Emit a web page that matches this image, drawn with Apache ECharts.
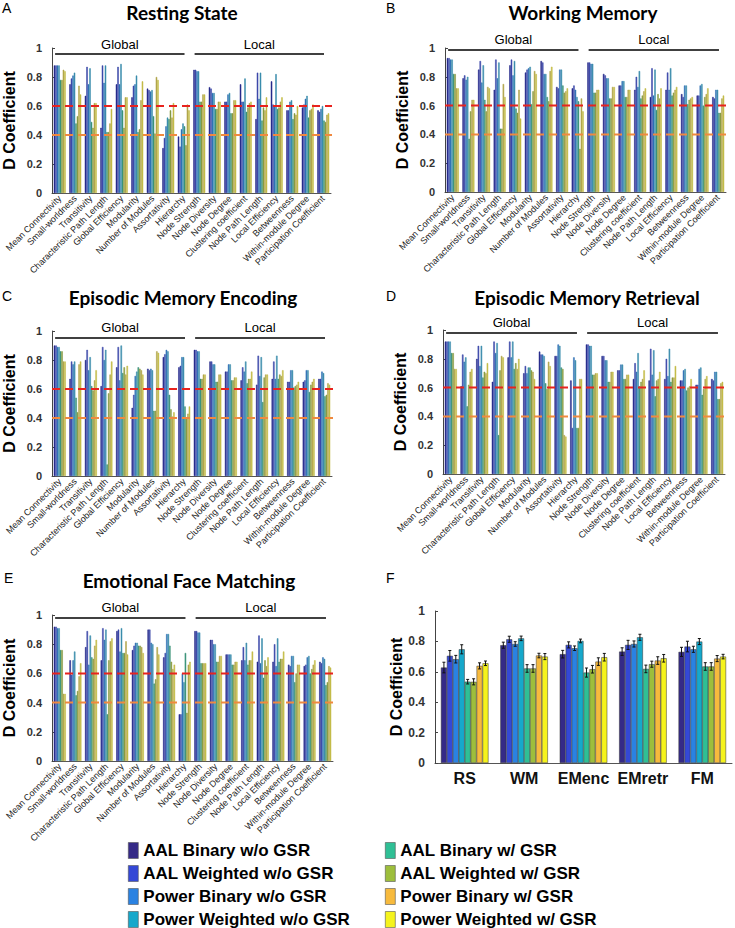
<!DOCTYPE html>
<html><head><meta charset="utf-8">
<script src="https://cdn.jsdelivr.net/npm/echarts@6/dist/echarts.min.js"></script>
<style>html,body{margin:0;padding:0;background:#fff}#c{width:735px;height:928px}</style>
</head><body><div id="c"></div>
<script>
// ---------------- DATA ----------------
const metrics = ['Mean Connectivity','Small-worldness','Transitivity','Characteristic Path Length','Global Efficiency','Modularity','Number of Modules','Assortativity','Hierarchy','Node Strength','Node Diversity','Node Degree','Clustering coefficient','Node Path Length','Local Efficiency','Betweenness','Within-module Degree','Participation Coefficient'];
const seriesNames = ['AAL Binary w/o GSR','AAL Weighted w/o GSR','Power Binary w/o GSR','Power Weighted w/o GSR','AAL Binary w/ GSR','AAL Weighted w/ GSR','Power Binary w/ GSR','Power Weighted w/ GSR'];
const groupNames = ['Global','Local'];
const groupStart = [0, 9];
const groupEnd = [8, 17];
const thresholds = [0.6, 0.4];

// one row per metric, values in seriesNames order
const restingRows = [
[0.88,0.88,0.88,0.88,0.78,0.78,0.85,0.84],
[0.75,0.79,0.81,0.83,0.48,0.53,0.74,0.68],
[0.67,0.87,0.75,0.86,0.49,0.45,0.62,0.62],
[0.45,0.88,0.76,0.88,0.42,0.42,0.48,0.58],
[0.75,0.87,0.75,0.89,0.57,0.45,0.66,0.66],
[0.66,0.74,0.75,0.81,0.42,0.44,0.64,0.77],
[0.72,0.71,0.70,0.71,0.53,0.41,0.80,0.78],
[0.31,0.38,0.46,0.52,0.51,0.57,0.52,0.62],
[0.39,0.32,0.44,0.48,0.46,0.33,0.61,0.57],
[0.85,0.85,0.84,0.84,0.63,0.63,0.68,0.68],
[0.73,0.72,0.69,0.69,0.58,0.58,0.63,0.63],
[0.63,0.63,0.68,0.69,0.55,0.55,0.64,0.64],
[0.75,0.63,0.63,0.79,0.56,0.59,0.62,0.63],
[0.51,0.83,0.65,0.83,0.50,0.59,0.57,0.66],
[0.77,0.61,0.60,0.82,0.58,0.59,0.63,0.66],
[0.57,0.57,0.63,0.64,0.51,0.55,0.54,0.60],
[0.59,0.61,0.65,0.67,0.52,0.57,0.58,0.61],
[0.57,0.56,0.58,0.60,0.50,0.49,0.54,0.55]
];
const workingRows = [
[0.93,0.93,0.92,0.92,0.82,0.82,0.72,0.72],
[0.79,0.81,0.78,0.80,0.37,0.56,0.64,0.64],
[0.85,0.91,0.76,0.88,0.64,0.56,0.73,0.72],
[0.71,0.92,0.79,0.90,0.44,0.44,0.75,0.66],
[0.88,0.92,0.81,0.91,0.58,0.55,0.71,0.51],
[0.83,0.85,0.86,0.87,0.61,0.70,0.84,0.82],
[0.91,0.90,0.82,0.82,0.66,0.63,0.84,0.87],
[0.73,0.72,0.85,0.85,0.74,0.69,0.70,0.72],
[0.72,0.74,0.71,0.66,0.63,0.30,0.65,0.56],
[0.90,0.90,0.89,0.89,0.69,0.69,0.71,0.71],
[0.82,0.81,0.79,0.79,0.65,0.65,0.73,0.73],
[0.74,0.74,0.77,0.77,0.66,0.66,0.71,0.71],
[0.71,0.80,0.73,0.84,0.65,0.67,0.70,0.72],
[0.66,0.86,0.67,0.85,0.57,0.68,0.65,0.72],
[0.71,0.83,0.71,0.86,0.67,0.69,0.71,0.73],
[0.68,0.66,0.74,0.74,0.61,0.64,0.65,0.66],
[0.67,0.67,0.74,0.75,0.60,0.66,0.68,0.72],
[0.66,0.65,0.71,0.71,0.55,0.55,0.65,0.67]
];
const encodingRows = [
[0.90,0.90,0.89,0.89,0.86,0.86,0.79,0.79],
[0.67,0.79,0.77,0.79,0.54,0.44,0.77,0.79],
[0.80,0.87,0.73,0.82,0.62,0.59,0.66,0.73],
[0.62,0.89,0.80,0.87,0.08,0.57,0.70,0.79],
[0.75,0.89,0.66,0.90,0.71,0.75,0.70,0.76],
[0.47,0.56,0.69,0.72,0.75,0.74,0.73,0.70],
[0.74,0.73,0.74,0.73,0.45,0.45,0.86,0.85],
[0.82,0.84,0.87,0.86,0.56,0.46,0.41,0.44],
[0.75,0.76,0.82,0.82,0.48,0.40,0.43,0.48],
[0.87,0.87,0.86,0.86,0.67,0.67,0.70,0.70],
[0.79,0.79,0.77,0.77,0.65,0.65,0.70,0.70],
[0.72,0.72,0.77,0.77,0.66,0.66,0.68,0.68],
[0.66,0.75,0.72,0.79,0.64,0.67,0.67,0.72],
[0.63,0.83,0.69,0.82,0.51,0.68,0.70,0.70],
[0.67,0.79,0.67,0.83,0.67,0.70,0.69,0.73],
[0.65,0.65,0.73,0.73,0.61,0.62,0.63,0.65],
[0.65,0.66,0.73,0.73,0.58,0.63,0.65,0.67],
[0.67,0.67,0.72,0.71,0.55,0.56,0.64,0.63]
];
const retrievalRows = [
[0.92,0.92,0.92,0.92,0.84,0.84,0.73,0.73],
[0.61,0.83,0.78,0.81,0.47,0.62,0.71,0.73],
[0.80,0.89,0.75,0.89,0.67,0.71,0.70,0.77],
[0.64,0.92,0.84,0.91,0.27,0.72,0.82,0.81],
[0.81,0.92,0.81,0.92,0.73,0.77,0.73,0.80],
[0.70,0.75,0.70,0.74,0.74,0.72,0.71,0.66],
[0.85,0.83,0.83,0.82,0.63,0.59,0.78,0.75],
[0.82,0.82,0.90,0.89,0.74,0.73,0.27,0.26],
[0.65,0.32,0.81,0.79,0.32,0.32,0.66,0.66],
[0.90,0.90,0.89,0.89,0.69,0.69,0.70,0.70],
[0.82,0.82,0.79,0.79,0.64,0.64,0.71,0.71],
[0.72,0.72,0.76,0.76,0.66,0.66,0.69,0.69],
[0.66,0.77,0.71,0.84,0.61,0.64,0.66,0.72],
[0.65,0.87,0.69,0.86,0.54,0.65,0.66,0.71],
[0.66,0.80,0.68,0.87,0.64,0.67,0.67,0.75],
[0.65,0.65,0.72,0.73,0.58,0.60,0.61,0.66],
[0.62,0.62,0.73,0.74,0.55,0.59,0.66,0.68],
[0.66,0.65,0.71,0.71,0.52,0.52,0.63,0.64]
];
const faceRows = [
[0.92,0.92,0.91,0.91,0.76,0.76,0.46,0.46],
[0.69,0.59,0.69,0.75,0.45,0.48,0.58,0.67],
[0.78,0.89,0.66,0.86,0.71,0.70,0.79,0.83],
[0.69,0.91,0.83,0.90,0.32,0.69,0.82,0.84],
[0.89,0.90,0.75,0.91,0.74,0.74,0.82,0.73],
[0.76,0.79,0.81,0.81,0.79,0.79,0.78,0.74],
[0.90,0.90,0.81,0.80,0.53,0.56,0.78,0.73],
[0.71,0.74,0.87,0.87,0.79,0.68,0.63,0.66],
[0.32,0.32,0.60,0.54,0.74,0.33,0.66,0.68],
[0.89,0.89,0.88,0.88,0.67,0.67,0.67,0.67],
[0.83,0.83,0.80,0.80,0.68,0.68,0.72,0.72],
[0.73,0.73,0.73,0.73,0.66,0.66,0.68,0.68],
[0.69,0.78,0.69,0.81,0.66,0.69,0.69,0.75],
[0.68,0.86,0.67,0.84,0.57,0.69,0.65,0.71],
[0.68,0.80,0.65,0.84,0.68,0.70,0.70,0.75],
[0.66,0.65,0.72,0.72,0.54,0.60,0.66,0.66],
[0.65,0.66,0.71,0.72,0.60,0.63,0.66,0.69],
[0.68,0.67,0.71,0.70,0.52,0.54,0.65,0.64]
];
const summaryCats = ['RS','WM','EMenc','EMretr','FM'];
const summaryMeans = [
[0.628,0.705,0.683,0.748,0.535,0.534,0.639,0.656],
[0.775,0.814,0.783,0.820,0.622,0.622,0.707,0.700],
[0.716,0.777,0.755,0.803,0.595,0.617,0.667,0.696],
[0.733,0.777,0.783,0.827,0.619,0.650,0.674,0.689],
[0.731,0.766,0.748,0.799,0.635,0.635,0.687,0.700]
];
const summaryErrs = [
[0.035,0.035,0.025,0.030,0.015,0.020,0.020,0.015],
[0.020,0.020,0.015,0.015,0.025,0.025,0.015,0.020],
[0.025,0.020,0.015,0.012,0.030,0.025,0.025,0.025],
[0.025,0.030,0.020,0.020,0.025,0.020,0.025,0.025],
[0.030,0.035,0.020,0.020,0.025,0.025,0.020,0.015]
];

// ---------------- STYLE / LAYOUT ----------------
const brightColors = ['#352A87','#3448D6','#2A82E2','#16A8CB','#2FBF95','#9DBE3C','#F7BA3D','#F5F31C'];
const thinColors   = ['#25288A','#3A47A8','#2F70B5','#3A8CAC','#3A9279','#869B40','#B0A54A','#C2BA44'];
const panels = [
 {rows: restingRows,   title:'Resting State',             letter:'A', grid:{left:51, top:48,  width:280, height:145}, titleXY:[182,12],  letterXY:[2,8],    bracketY:0.96},
 {rows: workingRows,   title:'Working Memory',            letter:'B', grid:{left:445,top:48,  width:281, height:144}, titleXY:[583,12],  letterXY:[386,8],  bracketY:0.99},
 {rows: encodingRows,  title:'Episodic Memory Encoding',  letter:'C', grid:{left:51, top:331, width:281, height:145}, titleXY:[183,297], letterXY:[2,296],  bracketY:0.956},
 {rows: retrievalRows, title:'Episodic Memory Retrieval', letter:'D', grid:{left:443,top:330, width:282, height:144}, titleXY:[587,297], letterXY:[386,296], bracketY:0.984},
 {rows: faceRows,      title:'Emotional Face Matching',   letter:'E', grid:{left:52, top:615, width:281, height:146}, titleXY:[189,580], letterXY:[4,578],  bracketY:0.984}
];
const summaryPanel = {letter:'F', grid:{left:435, top:611, width:297, height:152}, letterXY:[386,578]};
const FONT = 'Liberation Sans, Arial, Helvetica, sans-serif';

const grids=[], xAxes=[], yAxes=[], series=[], datasets=[], graphics=[];

function yAxisFor(k, gap, labelSize, margin){
  return {type:'value', gridIndex:k, min:0, max:1, interval:0.2,
    name:'D Coefficient', nameLocation:'middle', nameGap:gap,
    nameTextStyle:{fontFamily:FONT, fontSize:16, fontWeight:'bold', color:'#000'},
    axisLine:{show:true, onZero:false, lineStyle:{color:'#444', width:1}},
    axisTick:{show:true, inside:true, length:3, lineStyle:{color:'#444'}},
    splitLine:{show:false},
    axisLabel:{fontFamily:FONT, fontSize:labelSize, fontWeight:'bold', color:'#333', margin:margin}};
}

panels.forEach((p, k) => {
  grids.push(p.grid);
  datasets.push({source: metrics.map((m, i) => [m].concat(p.rows[i]))});
  const cx = xAxes.length;
  xAxes.push({type:'category', gridIndex:k, data:metrics,
    axisLine:{onZero:false, lineStyle:{color:'#555', width:1}}, axisTick:{show:false},
    axisLabel:{interval:0, rotate:45, fontFamily:FONT, fontSize:9, color:'#222', margin:4}});
  const vx = xAxes.length;
  xAxes.push({type:'value', gridIndex:k, min:-0.5, max:metrics.length-0.5, show:false});
  const yi = yAxes.length;
  yAxes.push(yAxisFor(k, 35, 11, 10));
  seriesNames.forEach((n, j) => series.push({
    type:'bar', name:n, datasetIndex:k, xAxisIndex:cx, yAxisIndex:yi,
    encode:{x:0, y:j+1}, barGap:'0%', barCategoryGap:'23%',
    itemStyle:{color:thinColors[j], borderColor:thinColors[j], borderWidth:0.5}, emphasis:{disabled:true}
  }));
  // Global / Local brackets
  const mlData = groupNames.map((g, gi) => [
    {name:g, coord:[groupStart[gi]-0.3, p.bracketY], lineStyle:{color:'#000', width:1.5, type:'solid'},
     label:{show:true, formatter:g, position:'insideMiddleTop', distance:3, fontFamily:FONT, fontSize:13, color:'#000'}},
    {coord:[groupEnd[gi]+0.05, p.bracketY]}
  ]);
  series.push({type:'line', xAxisIndex:vx, yAxisIndex:yi, data:[], silent:true,
    markLine:{silent:true, symbol:['none','none'], animation:false, data:mlData}});
  // dashed thresholds (extend slightly past the axis end)
  thresholds.forEach((t, ti) => series.push({
    type:'line', xAxisIndex:vx, yAxisIndex:yi, silent:true, clip:false, symbol:'none', z:5,
    data:[[-0.5, t], [metrics.length + 0.1, t]],
    lineStyle:{color: ti===0 ? '#E8231E' : '#F0893F', width:2, type:[8,5]}
  }));
  graphics.push({type:'text', style:{x:p.titleXY[0], y:p.titleXY[1], text:p.title, textAlign:'center', textVerticalAlign:'middle', font:'bold 19px Lato, "Open Sans", sans-serif', fill:'#000'}});
  graphics.push({type:'text', style:{x:p.letterXY[0], y:p.letterXY[1], text:p.letter, textAlign:'left', textVerticalAlign:'middle', font:'14px ' + FONT, fill:'#000'}});
});

// Panel F
const kF = panels.length;
grids.push(summaryPanel.grid);
datasets.push({source: summaryCats.map((c, i) => [c].concat(summaryMeans[i]))});
const fx = xAxes.length;
xAxes.push({type:'category', gridIndex:kF, data:summaryCats,
  axisLine:{lineStyle:{color:'#555', width:1}}, axisTick:{show:false},
  axisLabel:{interval:0, fontFamily:FONT, fontSize:16, fontWeight:'bold', color:'#111', margin:7}});
const fy = yAxes.length;
yAxes.push(yAxisFor(kF, 29, 12, 10));
const fGap = 0.2;
seriesNames.forEach((n, j) => series.push({
  type:'bar', name:n, datasetIndex:kF, xAxisIndex:fx, yAxisIndex:fy,
  encode:{x:0, y:j+1}, barGap:'0%', barCategoryGap:(fGap*100)+'%',
  itemStyle:{color:brightColors[j], borderColor:'#333', borderWidth:0.5}, emphasis:{disabled:true}
}));
const errData = [];
summaryCats.forEach((c, i) => seriesNames.forEach((n, j) => errData.push([i, j, summaryMeans[i][j], summaryErrs[i][j]])));
series.push({type:'custom', xAxisIndex:fx, yAxisIndex:fy, data:errData, z:10, silent:true,
  encode:{x:0, y:2},
  renderItem:(params, api) => {
    const c = api.value(0), s = api.value(1), m = api.value(2), e = api.value(3);
    const band = api.size([1, 0])[0];
    const group = band * (1 - fGap);
    const bw = group / seriesNames.length;
    const center = api.coord([c, m]);
    const x = center[0] - group/2 + (s + 0.5) * bw;
    const yt = api.coord([c, m + e])[1], yb = api.coord([c, m - e])[1];
    const st = {stroke:'#111', lineWidth:1};
    return {type:'group', children:[
      {type:'line', shape:{x1:x, y1:yt, x2:x, y2:yb}, style:st},
      {type:'line', shape:{x1:x-1.5, y1:yt, x2:x+1.5, y2:yt}, style:st},
      {type:'line', shape:{x1:x-1.5, y1:yb, x2:x+1.5, y2:yb}, style:st}
    ]};
  }});
graphics.push({type:'text', style:{x:summaryPanel.letterXY[0], y:summaryPanel.letterXY[1], text:summaryPanel.letter, textAlign:'left', textVerticalAlign:'middle', font:'14px ' + FONT, fill:'#000'}});

const legendBase = {orient:'vertical', top:842, height:88, padding:0, itemWidth:10, itemHeight:16, itemGap:6, icon:'rect', selectedMode:false,
  textStyle:{fontFamily:FONT, fontSize:17, fontWeight:'bold', color:'#000', lineHeight:16}};
const legendItem = (n) => {
  const j = seriesNames.indexOf(n);
  return {name:n, itemStyle:{color:brightColors[j], borderColor:'#555', borderWidth:0.6}};
};

const chart = echarts.init(document.getElementById('c'), null, {renderer:'svg'});
chart.setOption({
  animation:false,
  backgroundColor:'#fff',
  dataset: datasets,
  grid: grids,
  xAxis: xAxes,
  yAxis: yAxes,
  series: series,
  graphic: graphics,
  legend: [
    Object.assign({}, legendBase, {left:128, data:seriesNames.slice(0,4).map(legendItem)}),
    Object.assign({}, legendBase, {left:385, data:seriesNames.slice(4).map(legendItem)})
  ]
});
</script>
</body></html>
